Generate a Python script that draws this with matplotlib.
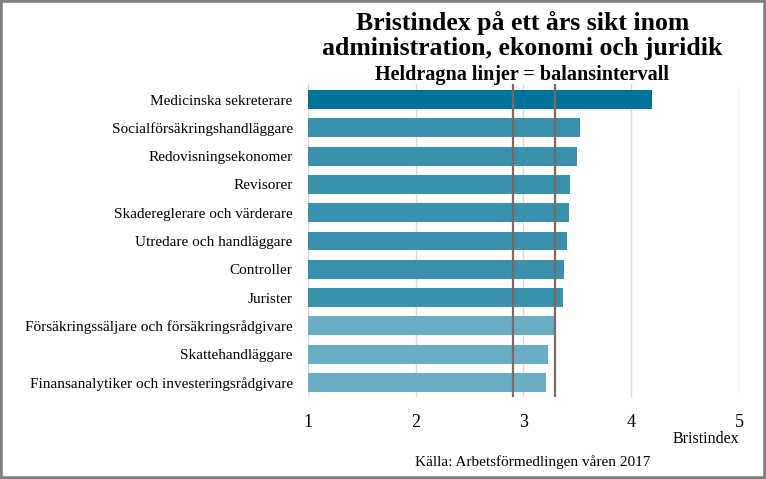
import matplotlib
matplotlib.use("Agg")
import matplotlib.pyplot as plt
from matplotlib.patches import Rectangle

# Data
categories = [
    "Medicinska sekreterare",
    "Socialförsäkringshandläggare",
    "Redovisningsekonomer",
    "Revisorer",
    "Skadereglerare och värderare",
    "Utredare och handläggare",
    "Controller",
    "Jurister",
    "Försäkringssäljare och försäkringsrådgivare",
    "Skattehandläggare",
    "Finansanalytiker och investeringsrådgivare",
]
values = [4.19, 3.52, 3.50, 3.43, 3.42, 3.40, 3.38, 3.37, 3.29, 3.23, 3.21]
bar_colors = ["#00739a"] + ["#3a91ad"] * 7 + ["#68adc3"] * 3
balance_interval = [2.90, 3.29]
x_ticks = [1, 2, 3, 4, 5]

plt.rcParams['font.family'] = ['Liberation Serif', 'DejaVu Serif']

fig = plt.figure(figsize=(7.66, 4.79), dpi=100)
ax = fig.add_axes([0.402, 0.171, 0.5628, 0.6536])

y = list(range(len(categories)))
ax.barh(y, [v - 1 for v in values], left=1, height=0.67, color=bar_colors, zorder=2)

for b in balance_interval:
    ax.axvline(b, color="#7a6a62", lw=1.6, zorder=3)

ax.set_xlim(1, 5)
ax.set_ylim(10.52, -0.55)
ax.set_xticks(x_ticks)
ax.set_xticklabels([str(t) for t in x_ticks], fontsize=13)
ax.set_yticks(y)
ax.set_yticklabels(categories, fontsize=11)
ax.tick_params(axis="y", length=0, pad=11)
ax.tick_params(axis="x", length=0, pad=12)
ax.grid(axis="x", color="#d9d9d9", lw=1, zorder=0)
for s in ax.spines.values():
    s.set_visible(False)

ax.text(5, -0.135, "Bristindex", transform=ax.get_xaxis_transform(),
        ha="right", va="center", fontsize=11.5)

fig.text(0.695, 0.035, "Källa: Arbetsförmedlingen våren 2017", ha="center",
         va="center", fontsize=11)

fig.text(0.682, 0.926, "Bristindex på ett års sikt inom\nadministration, ekonomi och juridik",
         ha="center", va="center", fontsize=18.5, fontweight="bold", linespacing=1.15)
fig.text(0.682, 0.844, "Heldragna linjer = balansintervall", ha="center", va="center",
         fontsize=14.5, fontweight="bold")

fig.patches.append(Rectangle((0, 0), 1, 1, transform=fig.transFigure, fill=False,
                             lw=4, ec="#808080"))

fig.savefig("out.png", dpi=100)
plt.close(fig)
